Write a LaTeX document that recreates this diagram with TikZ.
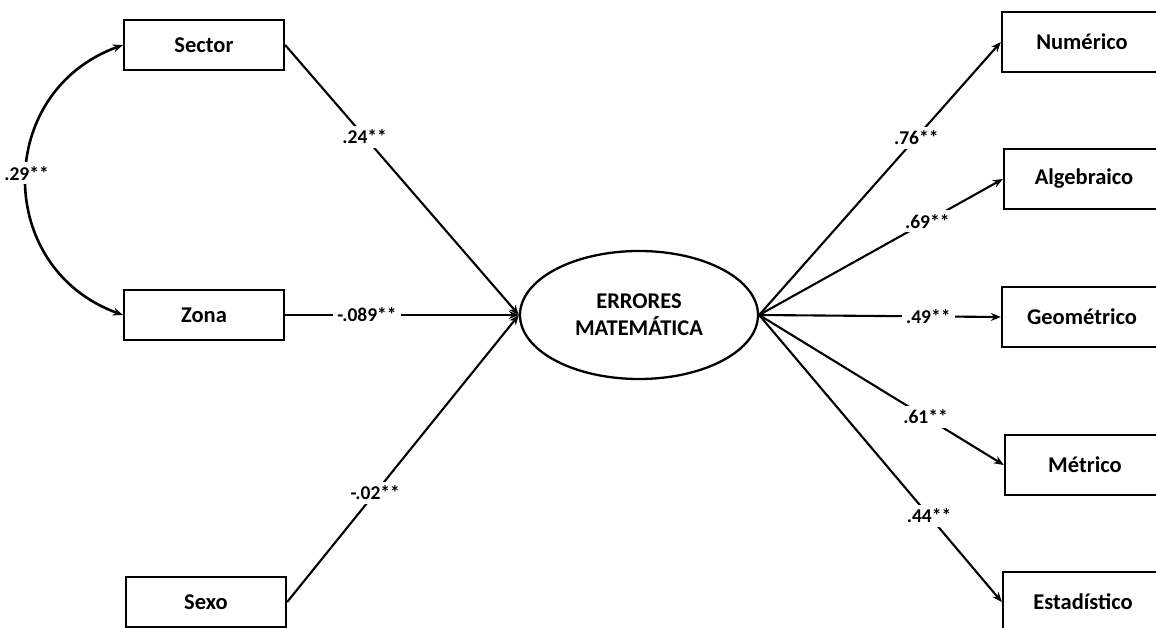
\documentclass[tikz,border=0pt]{standalone}
\usepackage{fontspec}
\setmainfont{Carlito}
\usetikzlibrary{arrows.meta,shapes.geometric}
\tikzset{
  box/.style={draw,line width=2.3pt,rectangle,minimum width=160pt,minimum height=50pt,inner sep=0pt,font=\fontsize{22.5}{26}\selectfont\bfseries},
  rbox/.style={box,minimum height=60pt},
  lat/.style={draw,line width=2.3pt,ellipse,minimum width=238pt,minimum height=128pt,inner sep=0pt,align=center,font=\fontsize{22.5}{27}\selectfont\bfseries},
  conn/.style={line width=2.1pt,-{Stealth[length=10pt,width=8pt]}},
  lbl/.style={fill=white,inner sep=4pt,font=\fontsize{19.5}{22}\selectfont\bfseries}
}
\begin{document}
\begin{tikzpicture}[x=1pt,y=-1pt]
\clip (0,0) rectangle (1156,628);
\fill[white] (0,0) rectangle (1156,628);
\node[box] (sector) at (204,45) {Sector};
\node[box] (zona) at (204,315) {Zona};
\node[box] (sexo) at (206,602) {Sexo};
\node[lat] (err) at (639,315) {ERRORES\\MATEMÁTICA};
\node[rbox] (num) at (1082,42) {Numérico};
\node[rbox] (alg) at (1084,179) {Algebraico};
\node[rbox] (geo) at (1082,317) {Geométrico};
\node[rbox] (met) at (1085,465) {Métrico};
\node[rbox] (est) at (1083,602) {Estadístico};

\draw[line width=2.6pt,{Stealth[length=10pt,width=8pt]}-{Stealth[length=10pt,width=8pt]}]
  (sector.west) to[out=200,in=160,looseness=1.3] node[lbl,pos=0.48] {.29**} (zona.west);

\draw[conn] (sector.east) -- node[lbl,pos=0.34] {.24**} (err.west);
\draw[conn] (zona.east) -- node[lbl,pos=0.35] {-.089**} (err.west);
\draw[conn] (sexo.east) -- node[lbl,pos=0.38] {-.02**} (err.west);

\draw[conn] (err.east) -- node[lbl,pos=0.65] {.76**} (num.west);
\draw[conn] (err.east) -- node[lbl,pos=0.69] {.69**} (alg.west);
\draw[conn] (err.east) -- node[lbl,pos=0.70] {.49**} (geo.west);
\draw[conn] (err.east) -- node[lbl,pos=0.68] {.61**} (met.west);
\draw[conn] (err.east) -- node[lbl,pos=0.70] {.44**} (est.west);
\end{tikzpicture}
\end{document}
